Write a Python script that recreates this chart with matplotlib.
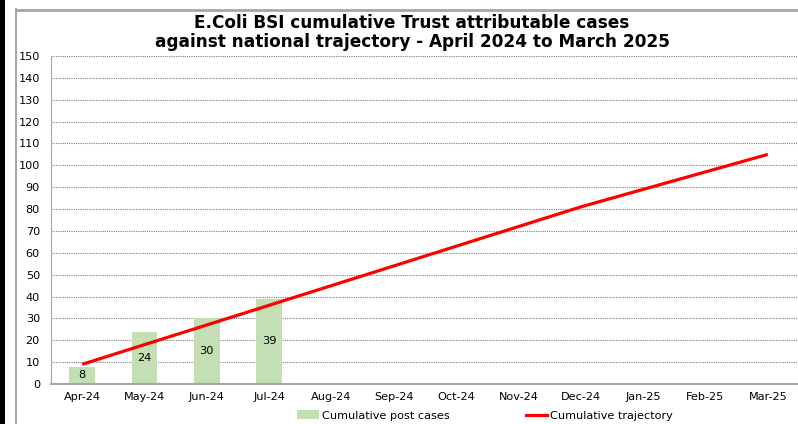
import matplotlib
matplotlib.use("Agg")
import matplotlib.pyplot as plt
from matplotlib.patches import Rectangle, Patch
from matplotlib.lines import Line2D

months = ["Apr-24", "May-24", "Jun-24", "Jul-24", "Aug-24", "Sep-24",
          "Oct-24", "Nov-24", "Dec-24", "Jan-25", "Feb-25", "Mar-25"]
post_cases = [8, 24, 30, 39]
trajectory = [9, 18, 27, 36, 45, 54, 63, 72, 81, 89, 97, 105]
y_ticks = list(range(0, 151, 10))

plt.rcParams["font.family"] = ["DejaVu Sans"]

W, H = 798, 424
fig = plt.figure(figsize=(W / 100, H / 100), dpi=100)

# Frame pieces of the surrounding sheet
fig.patches.append(Rectangle((0, 0), 5 / W, 1, transform=fig.transFigure,
                             facecolor="black", edgecolor="none", zorder=0))
fig.add_artist(Line2D([15.5 / W, 15.5 / W], [0, 1 - 9 / H], transform=fig.transFigure,
                      color="#a6a6a6", lw=1.5))
fig.add_artist(Line2D([15.5 / W, 1], [1 - 9.5 / H, 1 - 9.5 / H], transform=fig.transFigure,
                      color="#a6a6a6", lw=2))

ax = fig.add_axes([51 / W, 1 - 384 / H, 748 / W, (384 - 56) / H])
x = list(range(len(months)))

ax.bar(x[:len(post_cases)], post_cases, width=0.41, color="#c4dfb3",
       edgecolor="none", zorder=2)
for xi, v in zip(x, post_cases):
    ax.text(xi, v / 2, str(v), ha="center", va="center", fontsize=8.2, color="black", zorder=4)

ax.plot(x, trajectory, color="#ff0000", lw=2.3, zorder=3, solid_capstyle="butt")

ax.set_xlim(-0.5, len(months) - 0.5)
ax.set_ylim(0, 150)
ax.set_yticks(y_ticks)
ax.set_xticks(x)
ax.set_xticklabels(months)
ax.tick_params(axis="both", length=0, labelsize=8.1)
ax.tick_params(axis="y", pad=8)
ax.tick_params(axis="x", pad=6)
ax.yaxis.grid(True, color="#7f7f7f", linestyle=(0, (1, 1)), linewidth=0.8, zorder=1)
ax.set_axisbelow(True)
for s in ["top", "right"]:
    ax.spines[s].set_visible(False)
ax.spines["left"].set_color("#a6a6a6")
ax.spines["bottom"].set_color("#a6a6a6")
ax.spines["bottom"].set_linewidth(1.5)

fig.text(412 / W, 1 - 32.5 / H,
         "E.Coli BSI cumulative Trust attributable cases\nagainst national trajectory - April 2024 to March 2025",
         ha="center", va="center", fontsize=12.2, fontweight="bold", linespacing=1.1)

handles = [Patch(facecolor="#c4dfb3", edgecolor="none"),
           Line2D([], [], color="#ff0000", lw=2.3)]
fig.legend(handles, ["Cumulative post cases", "Cumulative trajectory"],
           loc="center", bbox_to_anchor=(485 / W, 1 - 415.5 / H), ncol=2, frameon=False,
           fontsize=8.1, handlelength=1.9, handletextpad=0.25, columnspacing=6.8,
           handleheight=0.8, borderpad=0, borderaxespad=0)

fig.savefig("out.png", dpi=100)
